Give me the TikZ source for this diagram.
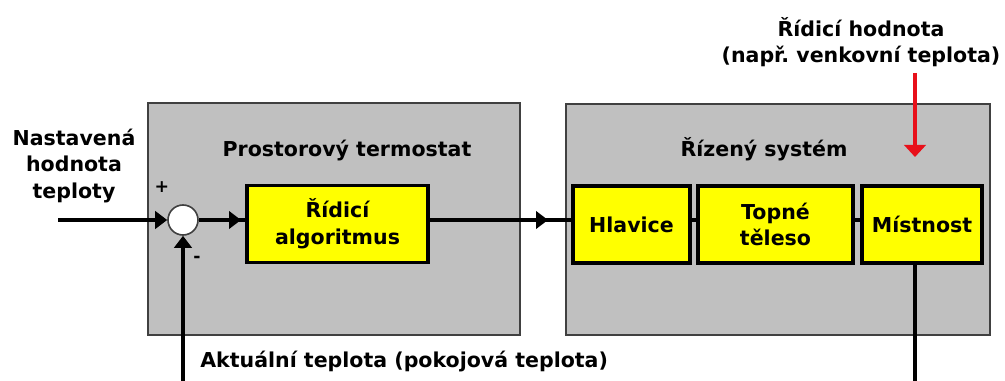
\documentclass[tikz,border=0pt]{standalone}
\usepackage{fontspec}
\setmainfont{DejaVu Sans}
\usetikzlibrary{arrows.meta,fit}
\definecolor{graybg}{HTML}{C0C0C0}
\definecolor{grayline}{HTML}{404040}
\definecolor{ybg}{HTML}{FFFF00}
\definecolor{redarr}{HTML}{E8101A}
\frenchspacing
\begin{document}
\begin{tikzpicture}[x=0.75pt,y=-0.75pt,
  txt/.style={font=\bfseries\fontsize{15.4}{20}\selectfont, align=center, inner sep=0pt},
  sgn/.style={font=\bfseries\fontsize{13}{15}\selectfont, inner sep=0pt},
  grp/.style={draw=grayline, fill=graybg, line width=1.5pt, inner sep=0pt},
  ybox/.style={draw=black, fill=ybg, line width=2.3pt, inner sep=0pt, txt, minimum height=57.75pt},
  wire/.style={line width=2.3pt},
  tip/.style={-{Triangle[length=9pt,width=13pt]}},
  rtip/.style={-{Triangle[length=9pt,width=16pt]}}]
\useasboundingbox (0,0) rectangle (1005,381);

% group boxes
\node[grp, fit={(148,103)(520,335)}] (g1) {};
\node[grp, fit={(566,104)(990,335)}] (g2) {};
\node[txt] (t1) at (347,151) {Prostorový termostat};
\node[txt] (t2) at (764,149) {Řízený systém};

% blocks
\node[ybox, minimum width=135.75pt] (alg) at (337.5,224) {Řídicí\\algoritmus};
\node[ybox, minimum width=87.75pt] (hla) at (631.5,224.5) {Hlavice};
\node[ybox, minimum width=116.25pt] (top) at (775.5,224.5) {Topné\\těleso};
\node[ybox, minimum width=90pt] (mis) at (922,224.5) {Místnost};

% summing junction
\node[circle, draw=grayline, fill=white, line width=1.2pt, minimum size=22.5pt, inner sep=0pt] (sum) at (183,220) {};

% labels
\node[txt] (set) at (74,166) {Nastavená\\hodnota\\teploty};
\node[sgn] (plus) at (162,187) {+};
\node[sgn] (minus) at (197,259) {-};
\node[txt] (rid) at (861,42) {Řídicí hodnota\\(např. venkovní teplota)};
\node[txt, anchor=west] (akt) at (200,362) {Aktuální teplota (pokojová teplota)};

% coordinates
\coordinate (in) at (58,220);
\coordinate (a1) at (241,220);
\coordinate (a2) at (548,220);
\coordinate (fb) at (183,381);
\coordinate (out) at (915,381);
\coordinate (r0) at (915,73);
\coordinate (r1) at (915,157);

% connectors
\draw[wire, tip] (in) -- (sum.west);
\draw[wire] (sum.east) -- (sum.east -| alg.west);
\draw[wire, tip] (sum.east) -- (a1);
\draw[wire] (alg.east |- a2) -- (hla.west |- a2);
\draw[wire, tip] (alg.east |- a2) -- (a2);
\draw[wire] (hla.east |- a2) -- (top.west |- a2);
\draw[wire] (top.east |- a2) -- (mis.west |- a2);
\draw[wire] (mis.south -| out) -- (out);
\draw[wire, tip] (fb) -- (sum.south);
\draw[line width=2.3pt, redarr, rtip] (r0) -- (r1);
\end{tikzpicture}
\end{document}
